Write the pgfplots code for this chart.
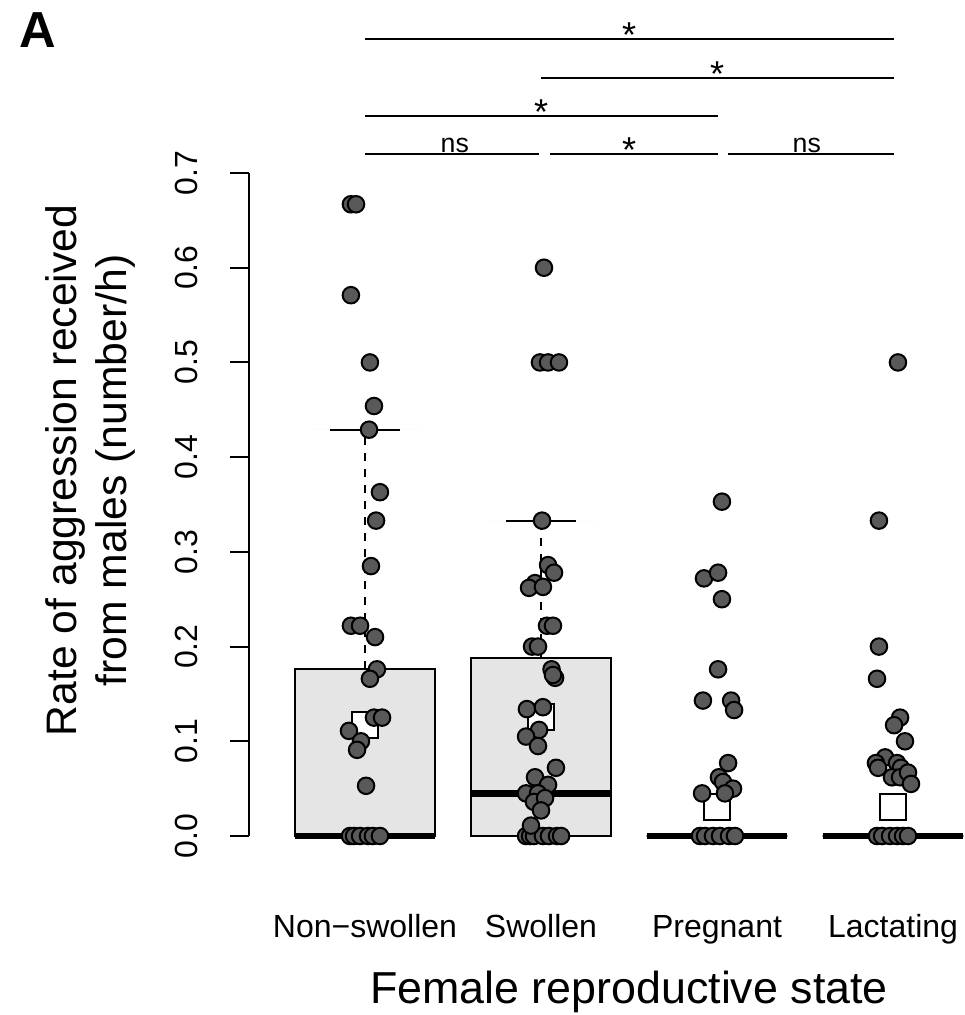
\documentclass[border=0pt]{standalone}
\usepackage{fontspec}
\setmainfont{Liberation Sans}
\usepackage{pgfplots}
\pgfplotsset{compat=1.18}
\usepgfplotslibrary{statistics}
\definecolor{boxfill}{RGB}{229,229,229}
\definecolor{ptgray}{RGB}{89,89,89}

\begin{document}
\begin{tikzpicture}
\begin{axis}[
  scale only axis, width=268.5pt, height=248.625pt,
  xmin=0.341, xmax=4.409, ymin=0, ymax=0.7,
  clip=false,
  axis y line*=left, axis x line*=bottom,
  x axis line style={draw=none},
  y axis line style={line width=0.75pt, -},
  xtick={1,2,3,4},
  xticklabels={Non−swollen,Swollen,Pregnant,Lactating},
  major x tick style={draw=none},
  xticklabel style={anchor=base, yshift=-31.1pt, font=\fontsize{12}{14}\selectfont},
  ytick={0,0.1,0.2,0.3,0.4,0.5,0.6,0.7},
  yticklabel style={xshift=-12pt, rotate=90, anchor=south, inner sep=0pt, font=\fontsize{12}{14}\selectfont,
    /pgf/number format/.cd, fixed, fixed zerofill, precision=1, assume math mode=true},
  tick align=outside, major tick length=7.1pt,
  major y tick style={line width=0.75pt, black},
  boxplot/draw direction=y,
  boxplot/box extend=0.8,
  boxplot/every whisker/.style={draw=none},
  boxplot/every median/.style={line width=2.4pt},
]
% boxes
\addplot[boxplot prepared={lower whisker=0,lower quartile=0,median=0,upper quartile=0.176,upper whisker=0.429},boxplot/draw position=1,draw=black,fill=boxfill,line width=0.75pt] coordinates {};
\addplot[boxplot prepared={lower whisker=0,lower quartile=0,median=0.045,upper quartile=0.188,upper whisker=0.333},boxplot/draw position=2,draw=black,fill=boxfill,line width=0.75pt] coordinates {};
\addplot[boxplot prepared={lower whisker=0,lower quartile=0,median=0,upper quartile=0,upper whisker=0},boxplot/draw position=3,draw=black,fill=boxfill,line width=0.75pt] coordinates {};
\addplot[boxplot prepared={lower whisker=0,lower quartile=0,median=0,upper quartile=0,upper whisker=0},boxplot/draw position=4,draw=black,fill=boxfill,line width=0.75pt] coordinates {};
% whiskers
\addplot[black, line width=0.75pt, dash pattern=on 3pt off 3pt] coordinates {(1,0.176) (1,0.429)};
\addplot[black, line width=0.75pt] coordinates {(0.8,0.429) (1.2,0.429)};
\addplot[black, line width=0.75pt, dash pattern=on 3pt off 3pt] coordinates {(2,0.188) (2,0.333)};
\addplot[black, line width=0.75pt] coordinates {(1.8,0.333) (2.2,0.333)};
% means
\addplot[only marks, mark=square*, mark size=4.9pt, mark options={fill=white, draw=black, line width=0.75pt}]
  coordinates {(1,0.117) (2,0.126) (3,0.031) (4,0.031)};
% points
\pgfplotsset{pts/.style={only marks, mark=*, mark size=3.1pt, mark options={fill=ptgray, draw=black, line width=0.75pt}}}
\addplot[pts] coordinates {
(0.915,0) (0.938,0) (0.972,0) (1.017,0) (1.045,0) (1.085,0)
(0.920,0.667) (0.949,0.667) (0.920,0.571) (1.028,0.500) (1.051,0.454) (1.023,0.429)
(1.085,0.363) (1.063,0.333) (1.034,0.285) (0.920,0.222) (0.972,0.222) (1.057,0.210)
(1.068,0.176) (1.028,0.166) (1.051,0.125) (1.097,0.125) (0.909,0.111) (0.977,0.100)
(0.955,0.091) (1.006,0.053)};
\addplot[pts] coordinates {
(1.915,0) (1.938,0) (1.960,0) (2.011,0) (2.045,0) (2.091,0) (2.114,0)
(2.017,0.600) (1.994,0.500) (2.040,0.500) (2.102,0.500) (2.006,0.333)
(2.040,0.286) (2.074,0.278) (1.966,0.267) (1.932,0.262) (2.011,0.263)
(2.034,0.222) (2.068,0.222) (1.949,0.200) (1.983,0.200)
(2.060,0.176) (2.080,0.167) (2.068,0.170) (1.920,0.134) (2.011,0.136)
(1.989,0.112) (1.915,0.105) (1.983,0.095) (2.085,0.072) (1.966,0.062)
(2.040,0.054) (1.915,0.045) (1.983,0.045) (1.960,0.036) (2.023,0.040)
(2.000,0.027) (1.943,0.011)};
\addplot[pts] coordinates {
(2.903,0) (2.932,0) (2.977,0) (3.017,0) (3.068,0) (3.102,0)
(3.028,0.353) (2.926,0.272) (3.006,0.278) (3.028,0.250) (3.006,0.176)
(2.920,0.143) (3.080,0.143) (3.097,0.133) (3.063,0.077) (3.011,0.062)
(3.034,0.057) (3.091,0.050) (2.915,0.045) (3.045,0.045)};
\addplot[pts] coordinates {
(3.909,0) (3.938,0) (3.983,0) (4.023,0) (4.057,0) (4.085,0)
(4.028,0.500) (3.920,0.333) (3.920,0.200) (3.909,0.166) (4.040,0.125)
(4.006,0.117) (4.068,0.100) (3.955,0.083) (3.903,0.077) (4.023,0.077)
(3.915,0.072) (4.045,0.072) (3.994,0.062) (4.040,0.062) (4.085,0.067)
(4.102,0.055)};
% significance brackets
\addplot[black, line width=0.75pt] coordinates {(1,0.841) (4.006,0.841)};
\addplot[black, line width=0.75pt] coordinates {(2,0.800) (4.006,0.800)};
\addplot[black, line width=0.75pt] coordinates {(1,0.760) (3.006,0.760)};
\addplot[black, line width=0.75pt] coordinates {(1,0.720) (1.989,0.720)};
\addplot[black, line width=0.75pt] coordinates {(2.051,0.720) (3.006,0.720)};
\addplot[black, line width=0.75pt] coordinates {(3.063,0.720) (4.006,0.720)};
\node[anchor=base, inner sep=0pt, font=\fontsize{13.5}{15}\selectfont] at (axis cs:2.5,0.832) {*};
\node[anchor=base, inner sep=0pt, font=\fontsize{13.5}{15}\selectfont] at (axis cs:3.0,0.791) {*};
\node[anchor=base, inner sep=0pt, font=\fontsize{13.5}{15}\selectfont] at (axis cs:2.0,0.751) {*};
\node[anchor=base, inner sep=0pt, font=\fontsize{13.5}{15}\selectfont] at (axis cs:2.5,0.711) {*};
\node[anchor=base, inner sep=0pt, font=\fontsize{10}{12}\selectfont] at (axis cs:1.51,0.722) {ns};
\node[anchor=base, inner sep=0pt, font=\fontsize{10}{12}\selectfont] at (axis cs:3.51,0.722) {ns};
% labels
\node[anchor=base, inner sep=0pt, font=\fontsize{16.8}{19}\selectfont] at (axis cs:2.5,-0.177) {Female reproductive state};
\node[rotate=90, align=center, inner sep=0pt, font=\fontsize{16}{18.75}\selectfont] at (axis cs:-0.557,0.386) {Rate of aggression received\\from males (number/h)};
\node[anchor=base, inner sep=0pt, font=\fontsize{19}{22}\selectfont\bfseries] at (axis cs:-0.858,0.833) {A};
\end{axis}
\pgfresetboundingbox
\path[use as bounding box] (-93.375pt,-67.125pt) rectangle (268.5pt,313.5pt);
\end{tikzpicture}
\end{document}
